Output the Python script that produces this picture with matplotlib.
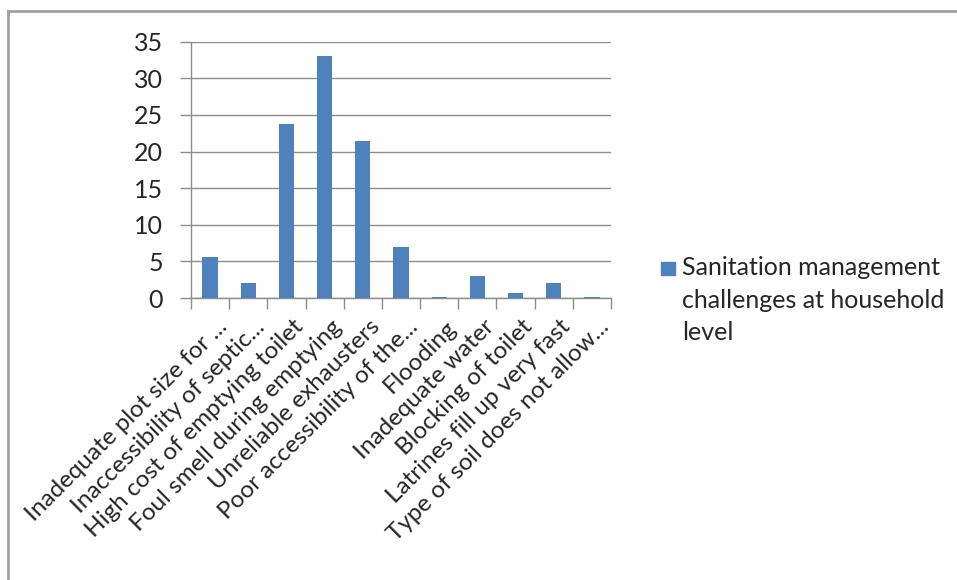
import matplotlib
matplotlib.use("Agg")
import matplotlib.pyplot as plt
from matplotlib.lines import Line2D
from matplotlib.patches import Rectangle
from matplotlib.transforms import ScaledTranslation
import numpy as np

plt.rcParams['font.family'] = ['Lato', 'DejaVu Sans']

categories = [
    "Inadequate plot size for ...",
    "Inaccessibility of septic...",
    "High cost of emptying toilet",
    "Foul smell during emptying",
    "Unreliable exhausters",
    "Poor accessibility of the...",
    "Flooding",
    "Inadequate water",
    "Blocking of toilet",
    "Latrines fill up very fast",
    "Type of soil does not allow...",
]
values = [5.6, 2.1, 23.7, 33.0, 21.4, 6.9, 0.2, 3.0, 0.7, 2.1, 0.2]
series_name = "Sanitation management\nchallenges at household\nlevel"
y_ticks = [0, 5, 10, 15, 20, 25, 30, 35]

bar_color = "#4F81BD"
grid_color = "#8C8C8C"
text_color = "#262626"

W, H = 957, 580
fig = plt.figure(figsize=(W / 100, H / 100), dpi=100)
ax = fig.add_axes([191 / W, 1 - 298 / H, (611 - 191) / W, (298 - 41.7) / H])

x = np.arange(len(categories))
ax.bar(x, values, width=0.4, color=bar_color, zorder=3)

ax.set_xlim(-0.5, len(categories) - 0.5)
ax.set_ylim(0, 35)
ax.set_yticks(y_ticks)
ax.set_yticklabels([str(v) for v in y_ticks])
ax.yaxis.grid(True, color=grid_color, linewidth=1.0, zorder=0)

for side in ("top", "right"):
    ax.spines[side].set_visible(False)
for side in ("left", "bottom"):
    ax.spines[side].set_color(grid_color)
    ax.spines[side].set_linewidth(1.0)

ax.tick_params(axis="y", length=8, width=1.0, color=grid_color, pad=12,
               labelsize=18, labelcolor=text_color)

# category labels on major ticks, tick marks between categories
ax.set_xticks(x)
ax.set_xticklabels(categories, rotation=45, ha="right", va="top",
                   rotation_mode="anchor", fontsize=17.5, color=text_color)
ax.tick_params(axis="x", which="major", length=0, pad=11)
nudge = ScaledTranslation(6 / 100, -3 / 100, fig.dpi_scale_trans)
for lbl in ax.get_xticklabels():
    lbl.set_transform(lbl.get_transform() + nudge)
ax.set_xticks(np.arange(-0.5, len(categories), 1.0), minor=True)
ax.tick_params(axis="x", which="minor", length=8, width=1.0, color=grid_color)

# legend: swatch beside the first line of the series name
fig.add_artist(Rectangle((661 / W, 1 - 275 / H), 14 / W, 13 / H,
                         transform=fig.transFigure, color=bar_color))
fig.text(682 / W, 1 - 256 / H, series_name, ha="left", va="top",
         fontsize=18, color=text_color, linespacing=1.5)

# outer chart frame (left and top edges)
frame_color = "#A0A0A0"
fig.add_artist(Line2D([8 / W, 8 / W], [0, 1 - 11 / H],
                      transform=fig.transFigure, color=frame_color, linewidth=2))
fig.add_artist(Line2D([8 / W, 1], [1 - 11 / H, 1 - 11 / H],
                      transform=fig.transFigure, color=frame_color, linewidth=2))

fig.savefig("out.png", dpi=100, facecolor="white")
